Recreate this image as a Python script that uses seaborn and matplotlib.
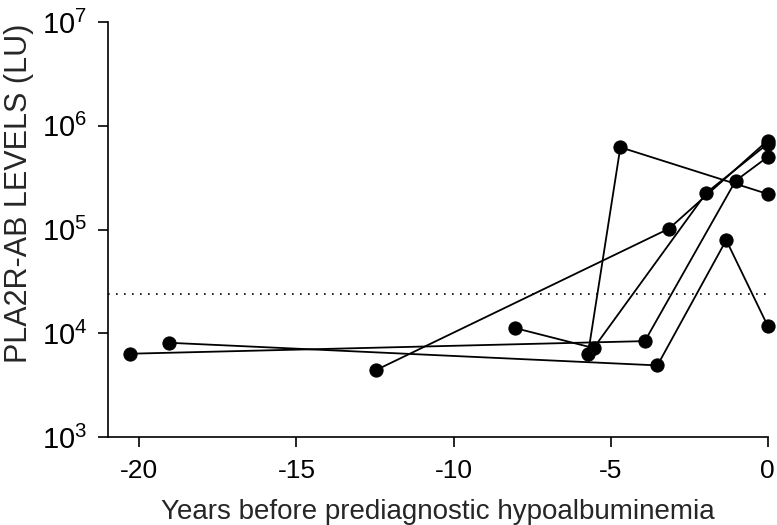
import matplotlib
matplotlib.use("Agg")
import matplotlib.pyplot as plt
import seaborn as sns
import pandas as pd

# one list per patient: years before hypoalbuminemia and PLA2R-ab level (LU)
p1_years = [-20.3, -3.91, -1.02, 0]
p1_levels = [6.35e3, 8.4e3, 2.95e5, 5.0e5]
p2_years = [-19.07, -3.51, -1.32, 0]
p2_levels = [8.1e3, 4.9e3, 7.9e4, 1.18e4]
p3_years = [-12.46, -3.14, 0]
p3_levels = [4.43e3, 1.02e5, 7.2e5]
p4_years = [-8.03, -5.54, -1.95, 0]
p4_levels = [1.12e4, 7.2e3, 2.26e5, 6.7e5]
p5_years = [-5.72, -4.69, 0]
p5_levels = [6.3e3, 6.2e5, 2.2e5]

cutoff = 2.4e4
x_ticks = [-20, -15, -10, -5, 0]
y_ticks = [1e3, 1e4, 1e5, 1e6, 1e7]

series = [(p1_years, p1_levels), (p2_years, p2_levels), (p3_years, p3_levels),
          (p4_years, p4_levels), (p5_years, p5_levels)]
rows = []
for i, (yrs, lv) in enumerate(series):
    for a, b in zip(yrs, lv):
        rows.append({"patient": i, "years": a, "level": b})
df = pd.DataFrame(rows)

sns.set_style("ticks")
plt.rcParams["font.family"] = ["Liberation Sans", "DejaVu Sans"]
plt.rcParams["mathtext.fontset"] = "custom"
plt.rcParams["mathtext.rm"] = "Liberation Sans"

fig = plt.figure(figsize=(7.77, 5.25), dpi=100)
ax = fig.add_axes([0.139, 0.1676, 0.849, 0.7905])

ax.axhline(cutoff, color="black", lw=1.2, ls=(0, (1, 3.8)))
sns.lineplot(data=df, x="years", y="level", units="patient", estimator=None,
             color="black", lw=1.3, marker="o", markersize=9.5,
             markeredgecolor="black", legend=False, ax=ax, clip_on=False)

ax.set_yscale("log")
ax.set_ylim(1e3, 1e7)
ax.set_xlim(-21, 0)
ax.set_xticks(x_ticks)
ax.set_xticklabels([str(t) for t in x_ticks])
ax.set_yticks(y_ticks)
ax.yaxis.set_minor_locator(matplotlib.ticker.NullLocator())

for s in ["top", "right"]:
    ax.spines[s].set_visible(False)
for s in ["left", "bottom"]:
    ax.spines[s].set_linewidth(1.2)
    ax.spines[s].set_color("black")
ax.tick_params(axis="both", length=7, width=1.2, color="black", labelcolor="black")
ax.tick_params(axis="x", labelsize=19, pad=9)
ax.tick_params(axis="y", labelsize=21, pad=8)

ax.set_xlabel("Years before prediagnostic hypoalbuminemia", fontsize=20, labelpad=11)
ax.set_ylabel("PLA2R-AB LEVELS (LU)", fontsize=22)
ax.yaxis.set_label_coords(-0.112, 0.588)

fig.savefig("out.png", dpi=100)
